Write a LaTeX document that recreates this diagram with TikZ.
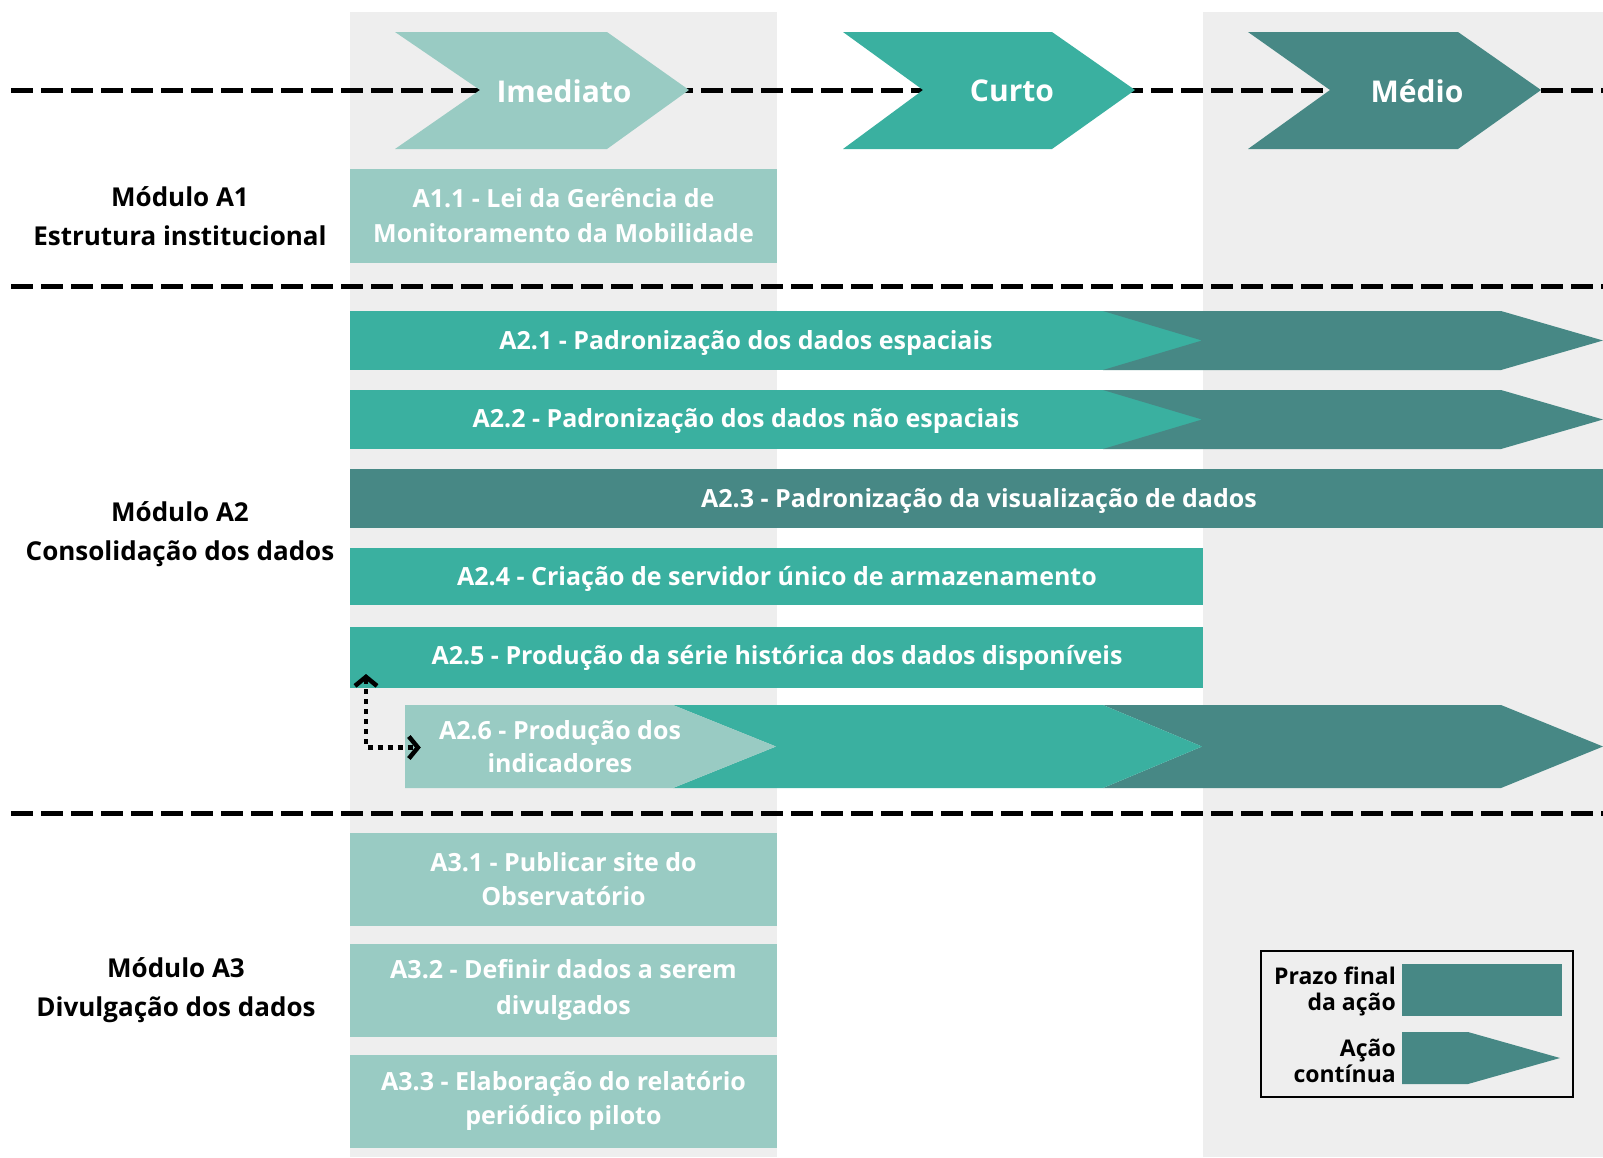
\documentclass[tikz,border=0pt]{standalone}
\usepackage{fontspec}
\setmainfont{Open Sans}
\usetikzlibrary{arrows.meta}
\definecolor{lightT}{RGB}{153,203,195}
\definecolor{midT}{RGB}{58,176,160}
\definecolor{darkT}{RGB}{71,136,133}
\definecolor{bandG}{RGB}{238,238,238}
\begin{document}
\begin{tikzpicture}[x=1pt,y=-1pt,
  sep/.style={line width=5pt, dash pattern=on 22pt off 8pt},
  bartext/.style={inner sep=0pt, outer sep=0pt, text=white, font=\bfseries\fontsize{25}{34}\selectfont, align=center},
  boxnode/.style={bartext, minimum width=427pt, minimum height=94pt},
  chevtext/.style={inner sep=0pt, text=white, font=\bfseries\fontsize{30}{36}\selectfont},
  modlab/.style={inner sep=0pt, font=\bfseries\fontsize{26}{39}\selectfont, align=center, text=black},
  legtext/.style={inner sep=0pt, font=\bfseries\fontsize{23}{26}\selectfont, align=right, text=black, anchor=east},
  dotarr/.style={line width=4.5pt, dash pattern=on 5pt off 5pt, {Straight Barb[length=9pt,width=22pt]}-{Straight Barb[length=9pt,width=22pt]}}
]
% background
\fill[white] (0,0) rectangle (1603,1157);
\useasboundingbox (0,0) rectangle (1603,1157);
\fill[bandG] (350,12) rectangle (777,1157);
\fill[bandG] (1203,12) rectangle (1603,1157);

% separators
\draw[sep] (11,90) -- (1603,90);
\draw[sep] (11,286) -- (1603,286);
\draw[sep] (11,813) -- (1603,813);

% time chevrons
\fill[lightT] (395,32) -- (607,32) -- (689,90) -- (607,149) -- (395,149) -- (480,90) -- cycle;
\fill[midT] (843,32) -- (1052,32) -- (1135,90) -- (1052,149) -- (843,149) -- (923,90) -- cycle;
\fill[darkT] (1248,32) -- (1458,32) -- (1541,90) -- (1458,149) -- (1248,149) -- (1330,90) -- cycle;
\node[chevtext] (imed) at (564,91) {Imediato};
\node[chevtext] (curto) at (1012,91) {Curto};
\node[chevtext] (medio) at (1417,91) {Médio};

% module labels
\node[modlab] (m1) at (180,216) {Módulo A1\\Estrutura institucional};
\node[modlab] (m2) at (180,534) {Módulo A2\\Consolidação dos dados};
\node[modlab] (m3) at (176,990) {Módulo A3\\Divulgação dos dados};

% A1
\node[boxnode, fill=lightT, font=\bfseries\fontsize{25}{35}\selectfont] (a11) at (563.5,216) {A1.1 - Lei da Gerência de\\Monitoramento da Mobilidade};

% A2.1
\fill[midT] (350,311) rectangle (1202,370);
\fill[darkT] (1103,311) -- (1501,311) -- (1603,340.5) -- (1501,370) -- (1103,370) -- (1202,340.5) -- cycle;
\node[bartext] (a21) at (746,343) {A2.1 - Padronização dos dados espaciais};
% A2.2
\fill[midT] (350,390) rectangle (1202,449);
\fill[darkT] (1103,390) -- (1501,390) -- (1603,419.5) -- (1501,449) -- (1103,449) -- (1202,419.5) -- cycle;
\node[bartext] (a22) at (746,421) {A2.2 - Padronização dos dados não espaciais};
% A2.3
\node[bartext, fill=darkT, minimum width=1253pt, minimum height=59pt] (a23) at (976.5,498.5) {};
\node[bartext] (a23t) at (979,501) {A2.3 - Padronização da visualização de dados};
% A2.4
\node[bartext, fill=midT, minimum width=853pt, minimum height=57pt] (a24) at (776.5,576.5) {};
\node[bartext] (a24t) at (777,579) {A2.4 - Criação de servidor único de armazenamento};
% A2.5
\node[bartext, fill=midT, minimum width=853pt, minimum height=61pt] (a25) at (776.5,657) {};
\node[bartext] (a25t) at (777,658) {A2.5 - Produção da série histórica dos dados disponíveis};
% A2.6
\fill[darkT] (1103,705) -- (1501,705) -- (1603,746.5) -- (1501,788) -- (1103,788) -- (1202,746.5) -- cycle;
\fill[midT] (673,705) -- (1103,705) -- (1202,746.5) -- (1103,788) -- (673,788) -- (776,746.5) -- cycle;
\fill[lightT] (405,705) -- (673,705) -- (776,746.5) -- (673,788) -- (405,788) -- cycle;
\node[inner sep=0pt, minimum width=1198pt, minimum height=83pt] (a26) at (1004,746.5) {};
\node[bartext, font=\bfseries\fontsize{25}{33}\selectfont] (a26t) at (560,747) {A2.6 - Produção dos\\indicadores};

% dotted link
\coordinate (dstart) at (366,674);
\draw[dotarr] (dstart) |- ([xshift=16pt,yshift=-1pt]a26.west);

% A3
\node[boxnode, fill=lightT, minimum height=93pt, font=\bfseries\fontsize{25}{34}\selectfont] (a31) at (563.5,879) {A3.1 - Publicar site do\\Observatório};
\node[boxnode, fill=lightT, minimum height=93pt, font=\bfseries\fontsize{25}{36}\selectfont] (a32) at (563.5,990) {A3.2 - Definir dados a serem\\divulgados};
\node[boxnode, fill=lightT, minimum height=93pt, font=\bfseries\fontsize{25}{34}\selectfont] (a33) at (563.5,1101) {A3.3 - Elaboração do relatório\\periódico piloto};

% legend
\node[draw=black, line width=2pt, fill=bandG, minimum width=312pt, minimum height=146pt, inner sep=0pt] (leg) at (1417,1024) {};
\fill[darkT] (1402,964) rectangle (1562,1016);
\fill[darkT] (1402,1032) -- (1468,1032) -- (1560,1058) -- (1468,1084) -- (1402,1084) -- cycle;
\node[legtext] (lg1) at (1396,991) {Prazo final\\da ação};
\node[legtext] (lg2) at (1396,1061) {Ação\\contínua};
\end{tikzpicture}
\end{document}
